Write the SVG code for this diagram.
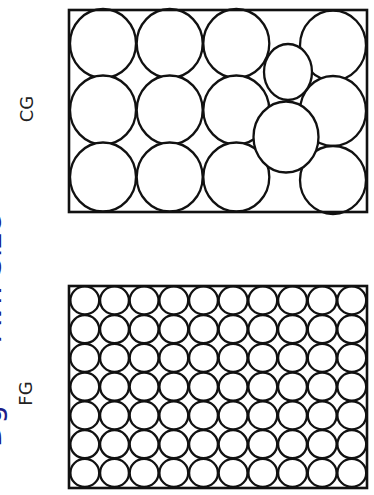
<svg xmlns="http://www.w3.org/2000/svg" width="374" height="495" viewBox="0 0 374 495">
<style>
.c{fill:#fff;stroke:#111;stroke-width:2.3}
.box{fill:none;stroke:#111;stroke-width:2.6}
.lbl{font-family:"DejaVu Sans",sans-serif;font-size:18px;fill:#222}
.blue{font-family:"DejaVu Sans",sans-serif;font-size:30px;fill:#1c1c8a}
</style>
<rect width="374" height="495" fill="#fff"/>
<g id="blue-label">
<text class="blue" transform="translate(1,405) rotate(-90)" text-anchor="end">Dg</text>
<text class="blue" transform="translate(1,376) rotate(-90)">= Avr. Size</text>
</g>
<g id="cg-label"><text class="lbl" transform="translate(32.5,109) rotate(-90)" text-anchor="middle">CG</text></g>
<g id="fg-label"><text class="lbl" transform="translate(31.7,393.5) rotate(-90)" text-anchor="middle">FG</text></g>
<g id="cg">
<ellipse class="c" cx="103" cy="43.5" rx="33" ry="34.5"/>
<ellipse class="c" cx="169.7" cy="43.5" rx="33" ry="34.5"/>
<ellipse class="c" cx="236.3" cy="43.5" rx="33" ry="34.5"/>
<ellipse class="c" cx="103" cy="110" rx="33" ry="34.5"/>
<ellipse class="c" cx="169.7" cy="110" rx="33" ry="34.5"/>
<ellipse class="c" cx="236.3" cy="110" rx="33" ry="34.5"/>
<ellipse class="c" cx="103" cy="177" rx="33" ry="34.5"/>
<ellipse class="c" cx="169.7" cy="177" rx="33" ry="34.5"/>
<ellipse class="c" cx="236.3" cy="177" rx="33" ry="34.5"/>
<ellipse class="c" cx="333" cy="45.5" rx="33" ry="35"/>
<ellipse class="c" cx="333" cy="111" rx="33" ry="35"/>
<ellipse class="c" cx="333" cy="180" rx="33" ry="34"/>
<ellipse class="c" cx="288" cy="72" rx="24" ry="28"/>
<ellipse class="c" cx="286" cy="137" rx="32.5" ry="35.5"/>
<rect class="box" x="69" y="10" width="298" height="202"/>
</g>
<g id="fg">
<defs><ellipse id="s" class="c" rx="14.4" ry="14"/></defs>
<g id="fg-circles">
<use href="#s" x="84.8" y="300.4"/><use href="#s" x="114.5" y="300.4"/><use href="#s" x="144.1" y="300.4"/><use href="#s" x="173.8" y="300.4"/><use href="#s" x="203.5" y="300.4"/><use href="#s" x="233.1" y="300.4"/><use href="#s" x="262.8" y="300.4"/><use href="#s" x="292.5" y="300.4"/><use href="#s" x="322.2" y="300.4"/><use href="#s" x="351.8" y="300.4"/>
<use href="#s" x="84.8" y="329.2"/><use href="#s" x="114.5" y="329.2"/><use href="#s" x="144.1" y="329.2"/><use href="#s" x="173.8" y="329.2"/><use href="#s" x="203.5" y="329.2"/><use href="#s" x="233.1" y="329.2"/><use href="#s" x="262.8" y="329.2"/><use href="#s" x="292.5" y="329.2"/><use href="#s" x="322.2" y="329.2"/><use href="#s" x="351.8" y="329.2"/>
<use href="#s" x="84.8" y="357.9"/><use href="#s" x="114.5" y="357.9"/><use href="#s" x="144.1" y="357.9"/><use href="#s" x="173.8" y="357.9"/><use href="#s" x="203.5" y="357.9"/><use href="#s" x="233.1" y="357.9"/><use href="#s" x="262.8" y="357.9"/><use href="#s" x="292.5" y="357.9"/><use href="#s" x="322.2" y="357.9"/><use href="#s" x="351.8" y="357.9"/>
<use href="#s" x="84.8" y="386.7"/><use href="#s" x="114.5" y="386.7"/><use href="#s" x="144.1" y="386.7"/><use href="#s" x="173.8" y="386.7"/><use href="#s" x="203.5" y="386.7"/><use href="#s" x="233.1" y="386.7"/><use href="#s" x="262.8" y="386.7"/><use href="#s" x="292.5" y="386.7"/><use href="#s" x="322.2" y="386.7"/><use href="#s" x="351.8" y="386.7"/>
<use href="#s" x="84.8" y="415.4"/><use href="#s" x="114.5" y="415.4"/><use href="#s" x="144.1" y="415.4"/><use href="#s" x="173.8" y="415.4"/><use href="#s" x="203.5" y="415.4"/><use href="#s" x="233.1" y="415.4"/><use href="#s" x="262.8" y="415.4"/><use href="#s" x="292.5" y="415.4"/><use href="#s" x="322.2" y="415.4"/><use href="#s" x="351.8" y="415.4"/>
<use href="#s" x="84.8" y="444.2"/><use href="#s" x="114.5" y="444.2"/><use href="#s" x="144.1" y="444.2"/><use href="#s" x="173.8" y="444.2"/><use href="#s" x="203.5" y="444.2"/><use href="#s" x="233.1" y="444.2"/><use href="#s" x="262.8" y="444.2"/><use href="#s" x="292.5" y="444.2"/><use href="#s" x="322.2" y="444.2"/><use href="#s" x="351.8" y="444.2"/>
<use href="#s" x="84.8" y="472.9"/><use href="#s" x="114.5" y="472.9"/><use href="#s" x="144.1" y="472.9"/><use href="#s" x="173.8" y="472.9"/><use href="#s" x="203.5" y="472.9"/><use href="#s" x="233.1" y="472.9"/><use href="#s" x="262.8" y="472.9"/><use href="#s" x="292.5" y="472.9"/><use href="#s" x="322.2" y="472.9"/><use href="#s" x="351.8" y="472.9"/>
</g>
<rect class="box" x="69" y="286" width="298" height="202"/>
</g>
</svg>
